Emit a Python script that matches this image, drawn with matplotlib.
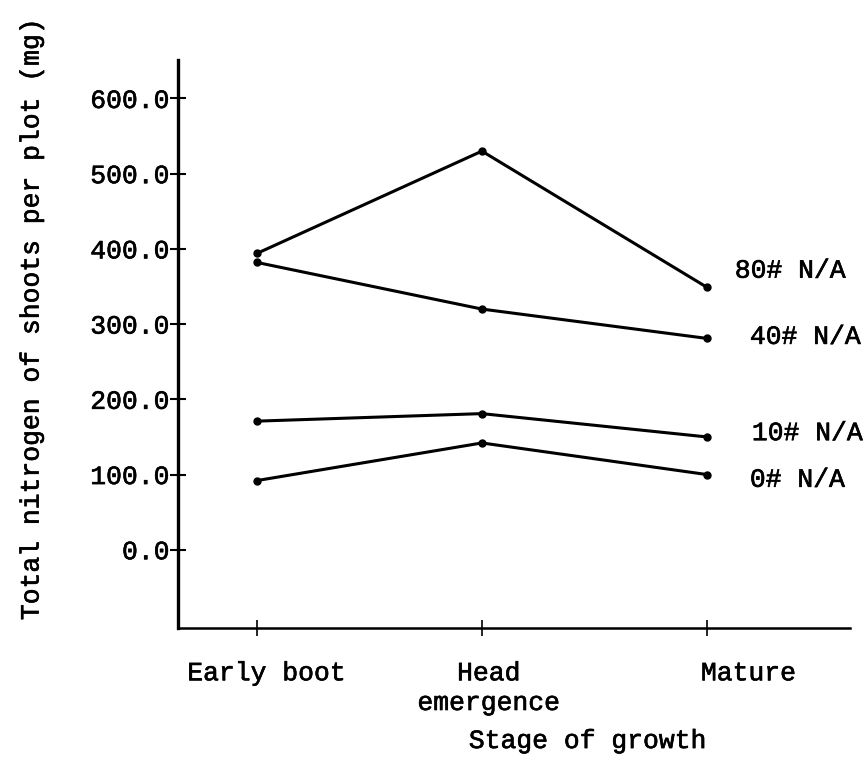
import numpy as np
import matplotlib
matplotlib.use("Agg")
import matplotlib.pyplot as plt
import matplotlib.patheffects as pe

plt.rcParams['font.family'] = ['Liberation Mono', 'DejaVu Sans Mono']
plt.rcParams['font.size'] = 19
# typewriter ink is a little heavier than the font
ink = [pe.withStroke(linewidth=0.45, foreground='black')]

# stages of growth and nitrogen totals (mg)
stages = ['Early boot', 'Head\nemergence', 'Mature']
n80 = [394, 530, 349]
n40 = [382, 320, 281]
n10 = [171, 181, 150]
n0 = [92, 142, 100]
series = [n80, n40, n10, n0]
names = ['80# N/A', '40# N/A', '10# N/A', '0# N/A']

yticks = [0, 100, 200, 300, 400, 500, 600]

# placement of the typed labels (data units / points)
label_x = [2.124, 2.191, 2.2, 2.191]
label_y = [371, 283, 155, 93]
stage_dx = [7, 5, 30]

fig = plt.figure(figsize=(8.66, 7.61), dpi=100)
ax = fig.add_axes([0.2055, 0.1748, 0.776, 0.7462])

x = np.arange(len(stages))
for vals in series:
    ax.plot(x, vals, '-o', color='black', lw=2.2, markersize=5)

for name, lx, ly in zip(names, label_x, label_y):
    ax.text(lx, ly, name, va='center', ha='left', path_effects=ink)

ax.set_xlim(-0.351, 2.636)
ax.set_ylim(-104, 651)
ax.set_xticks(x)
ax.set_xticklabels([])
ax.set_yticks(yticks)
ax.set_yticklabels(['%.1f' % v for v in yticks], path_effects=ink)

# stage names typed a bit off their ticks
for xi, name, dx in zip(x, stages, stage_dx):
    ax.annotate(name, xy=(xi, 0), xycoords=('data', 'axes fraction'),
                xytext=(dx, -24), textcoords='offset points',
                ha='center', va='top', linespacing=1.3, path_effects=ink)

ax.tick_params(axis='y', direction='inout', length=11, width=1.5, pad=0.5)
ax.tick_params(axis='x', direction='inout', length=11, width=1.2)

for side in ['top', 'right']:
    ax.spines[side].set_visible(False)
ax.spines['left'].set_linewidth(2.4)
ax.spines['bottom'].set_linewidth(1.8)

ax.set_xlabel('Stage of growth', path_effects=ink)
ax.xaxis.set_label_coords(0.61, -0.178)
ax.set_ylabel('Total nitrogen of shoots per plot (mg)', path_effects=ink)
ax.yaxis.set_label_coords(-0.2, 0.545)

fig.savefig('out.png', dpi=100)
